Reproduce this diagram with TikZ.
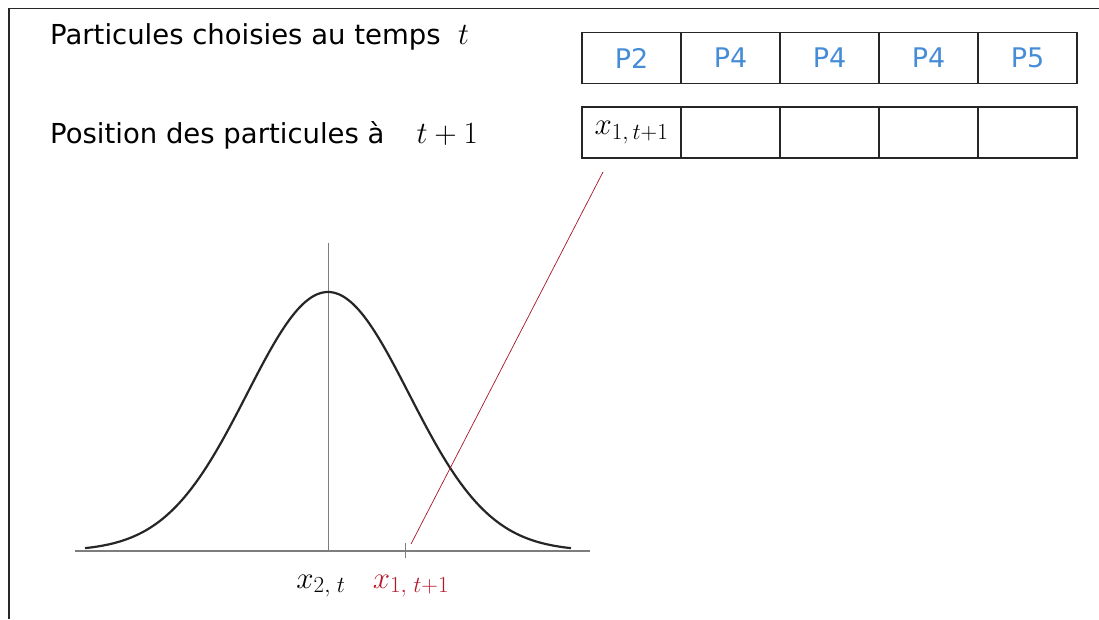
\RequirePackage{fix-cm}
\documentclass[tikz,border=0pt]{standalone}
\usepackage[no-math]{fontspec}
\setmainfont{DejaVu Sans}
\usepackage{tikz}
\usetikzlibrary{positioning,calc}
\definecolor{pblue}{RGB}{70,140,215}
\definecolor{pred}{RGB}{185,25,45}
\definecolor{axgray}{RGB}{125,125,125}
\definecolor{framegray}{RGB}{40,40,40}
\DeclareMathSizes{31}{31}{23}{17}

\begin{document}
\begin{tikzpicture}[x=1pt, y=-1pt,
  txt/.style={font=\fontsize{27.5}{32}\selectfont, inner sep=0pt, anchor=base west},
  cell/.style={rectangle, draw=black!85, line width=1.3pt, outer sep=0pt,
               minimum width=99pt, minimum height=51pt, inner sep=0pt,
               font=\fontsize{27}{31}\selectfont, text=pblue},
  mth/.style={font=\fontsize{31}{35}\selectfont, inner sep=0pt},
  axis/.style={draw=axgray, line width=1.3pt},
  curve/.style={draw=black!85, line width=2.2pt},
  link/.style={draw=pred!90!black, line width=0.7pt}
]
\useasboundingbox (0,0) rectangle (1099,619);

% --- Frame ---
\draw[framegray, line width=1.5pt] (9,619) -- (9,8.5) -- (1099,8.5);

% --- Row labels ---
\node[txt] (lab1) at (50,44) {Particules choisies au temps\ \ {\fontsize{31}{35}\selectfont$t$}};
\node[txt] (lab2) at (50,143) {Position des particules à\hspace{32pt}{\fontsize{31}{35}\selectfont$t+1$}};

% --- Table ---
\node[cell] (c1) at (631.5,58) {P2};
\foreach \i/\p [count=\j from 1] in {2/P4,3/P4,4/P4,5/P5}
  \node[cell, right=0pt of c\j] (c\i) {\p};
\node[cell, text=black, font=\fontsize{31}{35}\selectfont] (d1) at (631.5,132.5) {$x_{1,\,t+1}$};
\foreach \i [count=\j from 1] in {2,...,5}
  \node[cell, right=0pt of d\j] (d\i) {};

% --- Gaussian ---
\draw[axis] (75,551) -- (590,551);
\draw[axis, line width=1pt] (328,243) -- (328,551);
\draw[curve] plot[domain=-3:3, samples=120, smooth] ({328+81*\x},{551-259*exp(-\x*\x/2)});
\coordinate (tick) at (405,551);
\draw[axis, line width=1pt] ($(tick)+(0,-8)$) -- ($(tick)+(0,7)$);

\node[mth, anchor=base] (x2) at (321,588) {$x_{2,\;t}$};
\node[mth, anchor=base, text=pred] (x1) at (411,588) {$x_{1,\;t+1}$};

% --- Link ---
\coordinate (lnlow) at ($(tick)+(6,-7)$);
\coordinate (lntop) at ($(d1.south west)+(21,14)$);
\draw[link] (lnlow) -- (lntop);

\end{tikzpicture}
\end{document}
